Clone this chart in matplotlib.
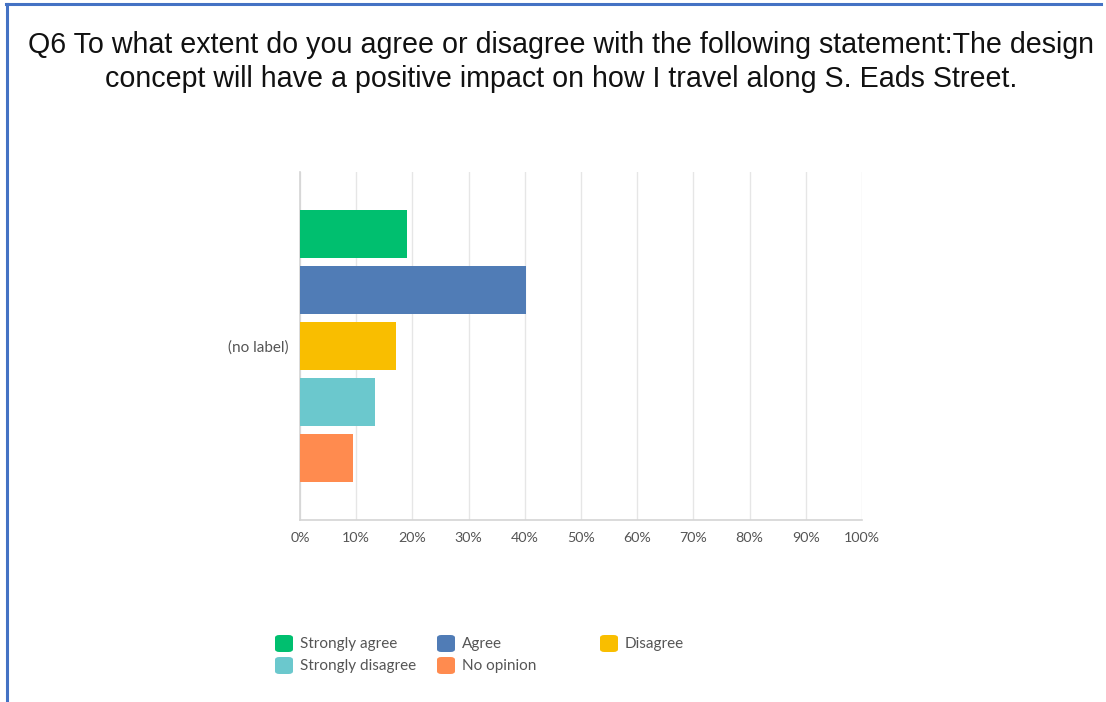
import matplotlib
matplotlib.use("Agg")
import matplotlib.pyplot as plt
from matplotlib.patches import FancyBboxPatch
from matplotlib.lines import Line2D

categories = ["Strongly agree", "Agree", "Disagree", "Strongly disagree", "No opinion"]
values = [19.0, 40.2, 17.1, 13.3, 9.5]
colors = ["#00BF6F", "#507CB6", "#F9BE00", "#6BC8CD", "#FF8B4F"]
xticks = [0, 10, 20, 30, 40, 50, 60, 70, 80, 90, 100]
xtick_labels = [f"{t}%" for t in xticks]
row_label = "(no label)"
title = ("Q6 To what extent do you agree or disagree with the following statement:The design\n"
         "concept will have a positive impact on how I travel along S. Eads Street.")

W, H = 1106, 702
fig = plt.figure(figsize=(W / 100, H / 100), dpi=100)
fig.patch.set_facecolor("white")

# blue frame (top and left)
fig.add_artist(Line2D([6 / W, 1101 / W], [1 - 4 / H, 1 - 4 / H], color="#4472C4", lw=2.2,
                      transform=fig.transFigure))
fig.add_artist(Line2D([7 / W, 7 / W], [0, 1 - 4 / H], color="#4472C4", lw=2.2,
                      transform=fig.transFigure))

fig.text(0.507, 1 - 62 / H, title, ha="center", va="center", fontsize=20.6,
         family="Liberation Sans", color="#111111", linespacing=1.25)

ax = fig.add_axes([300 / W, 1 - 520 / H, 562 / W, 348 / H])
ypos = list(range(len(categories)))
ax.barh(ypos, values, height=0.86, color=colors, zorder=3)
ax.set_xlim(0, 100)
ax.set_ylim(len(categories) - 1 + 1.12, -1.12)
ax.set_xticks(xticks)
ax.set_xticklabels(xtick_labels, family="Lato", fontsize=10.3, color="#555555")
ax.set_yticks([(len(categories) - 1) / 2])
ax.set_yticklabels([row_label], family="Lato", fontsize=11, color="#555555")
ax.tick_params(axis="both", length=0)
ax.tick_params(axis="x", pad=9)
ax.tick_params(axis="y", pad=8)
ax.grid(axis="x", color="#e6e6e6", lw=1, zorder=0)
for s in ["top", "right"]:
    ax.spines[s].set_visible(False)
ax.spines["left"].set_color("#d4d4d4")
ax.spines["bottom"].set_color("#d4d4d4")
ax.spines["left"].set_linewidth(1.2)
ax.spines["bottom"].set_linewidth(1.2)

# legend (manual, 3 columns)
col_x = [275, 437, 600]
row_y = [644, 666]
for i, (cat, col) in enumerate(zip(categories, colors)):
    r, c = divmod(i, 3)
    x0 = col_x[c]
    yc = row_y[r]
    box = FancyBboxPatch((x0 / W, 1 - (yc + 8) / H), 18 / W, 17 / H,
                         boxstyle="round,pad=0,rounding_size=0.004",
                         transform=fig.transFigure, facecolor=col, edgecolor="none")
    fig.add_artist(box)
    fig.text((x0 + 25) / W, 1 - yc / H, cat, ha="left", va="center", family="Lato",
             fontsize=11, color="#555555")

fig.savefig("out.png", dpi=100, facecolor="white")
